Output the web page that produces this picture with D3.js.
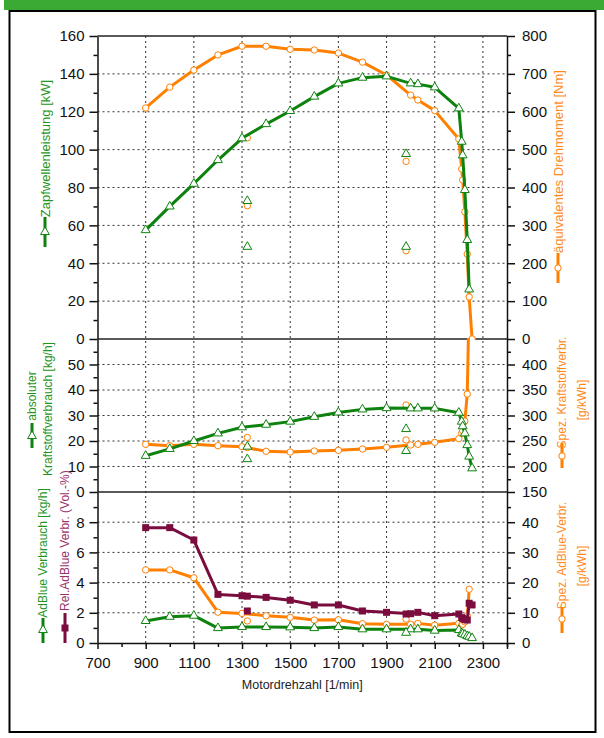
<!DOCTYPE html>
<html><head><meta charset="utf-8">
<script src="https://cdn.jsdelivr.net/npm/d3@7"></script>
<style>body{margin:0;background:#fff}text{font-family:"Liberation Sans",Arial,sans-serif}</style>
</head><body><svg id="c" width="604" height="738"></svg>
<script>
// ---- data ----
const rpm      = [900,1000,1100,1200,1300,1400,1500,1600,1700,1800,1900,2000,2030,2100,2200,2212,2216,2225,2235,2243,2255];
const power    = [57.5,70,82,94.5,106,113.5,120.4,128,135,138,138.7,135,134.6,132.9,121.8,104.2,97,78.7,52.3,26.2,null];
const torque   = [610,665,710,750,773,773,765,763,755,731,697,644,631,603,528,449,420,336,224,111,0];
const fuel     = [14.2,16.9,20,23,25.4,26.4,27.6,29.5,31.2,32.4,32.9,32.8,32.8,32.8,31.1,27.6,25.8,23,18.4,13.9,9.3];
const specFuel = [243.5,240.8,243.5,240.8,238.8,229.8,228.4,230.4,231.7,234.3,237.6,242.2,243.5,247.4,254.6,265,270,289,342,530,null];
const adblue   = [1.46,1.74,1.81,0.99,1.06,1.06,1.04,0.99,1.06,0.91,0.91,0.91,0.91,0.82,0.86,0.64,0.6,0.55,0.46,0.42,0.33];
const relAdblue= [7.64,7.64,6.82,3.22,3.13,3.02,2.83,2.52,2.52,2.12,2.03,1.94,2.03,1.81,1.92,1.68,1.63,1.55,1.52,2.63,2.52];
const specAdblue=[24.2,24.2,21.6,10.2,9.8,9.0,8.5,7.6,7.7,6.4,6.2,6.2,6.5,5.9,6.5,6.0,6.2,7.0,9.0,17.8,null];

// separate measuring points (not connected)
const outRpm       = [1322,1322,1981,1981];
const outPower     = [72.9,48.7,97.7,48.7];
const outTorque    = [531,352,469,233];
const outFuel      = [17.8,12.9,24.7,16.1];
const outSpecFuel  = [237,257,252,320.6];
const outAdblue    = [null,null,0.68,null];
const outRel       = [3.1,2.12,1.92,null];
const outSpecAdb   = [null,7.3,7.9,null];

const xTicks = [700,900,1100,1300,1500,1700,1900,2100,2300];
const xMinor = [800,1000,1200,1400,1600,1800,2000,2200,2400];
const powerTicks = [0,20,40,60,80,100,120,140,160];
const torqueTicks = [0,100,200,300,400,500,600,700,800];
const fuelTicks = [0,10,20,30,40,50];
const specFuelTicks = [150,200,250,300,350,400];
const adbTicks = [0,2,4,6,8];
const specAdbTicks = [0,10,20,30,40];

// ---- layout ----
const L=97.5, R=507, T=36, B1=339, B2=492, B3=643;
const GREEN="#0e820e", ORANGE="#ff8000", MAROON="#7a0c3e";
const GREEN_T="#1e961e", ORANGE_T="#ff8a1c", MAROON_T="#9a3068";

const svg=d3.select("#c");
svg.append("rect").attr("x",4).attr("y",0).attr("width",600).attr("height",10).attr("fill","#3aaa35");
svg.append("rect").attr("x",9.5).attr("y",11).attr("width",586).attr("height",721).attr("fill","none").attr("stroke","#000").attr("stroke-width",2);

const x=d3.scaleLinear([700,2400],[L,R]);
const yP=d3.scaleLinear([0,160],[B1,T]);
const yT=d3.scaleLinear([0,800],[B1,T]);
const yF=d3.scaleLinear([0,60],[B2,B1]);
const ySF=d3.scaleLinear([150,450],[B2,B1]);
const yA=d3.scaleLinear([0,10],[B3,B2]);
const ySA=d3.scaleLinear([0,50],[B3,B2]);

// clip paths
const defs=svg.append("defs");
[["c1",T,B1],["c2",B1,B2],["c3",B2,B3]].forEach(([id,a,b])=>{
  defs.append("clipPath").attr("id",id).append("rect").attr("x",L).attr("y",a-1).attr("width",R-L).attr("height",b-a+2);
});

// grid
const grid=svg.append("g").attr("stroke","#333").attr("stroke-width",1).attr("stroke-dasharray","2,3");
xTicks.slice(1).forEach(v=>grid.append("line").attr("x1",x(v)).attr("x2",x(v)).attr("y1",T).attr("y2",B3));
[[yP,[20,40,60,80,100,120,140]],[yF,[10,20,30,40,50]],[yA,[2,4,6,8]]].forEach(([s,vals])=>{
  vals.forEach(v=>grid.append("line").attr("x1",L).attr("x2",R).attr("y1",s(v)).attr("y2",s(v)));
});

// axes
function styleAxis(g){
  g.selectAll("text").attr("font-size","15px").attr("fill","#111").style("font-family","'Liberation Sans',Arial,sans-serif");
  g.selectAll("line,path").attr("stroke","#111").attr("stroke-width",1.5);
}
function axis(mk,scale,tx,major,minor,pad){
  const g=svg.append("g").attr("transform",tx);
  g.call(mk(scale).tickValues(major).tickSize(8).tickPadding(pad).tickSizeOuter(0));
  g.append("g").call(mk(scale).tickValues(minor).tickSize(4).tickFormat("").tickSizeOuter(0)).select(".domain").remove();
  styleAxis(g);
}
const odd=(a,b,s)=>d3.range(a,b+1e-9,s);
axis(d3.axisLeft,yP,`translate(${L},0)`,powerTicks,odd(10,150,20),5);
axis(d3.axisLeft,yF,`translate(${L},0)`,fuelTicks,odd(5,55,10),5);
axis(d3.axisLeft,yA,`translate(${L},0)`,adbTicks,odd(1,9,2),5);
axis(d3.axisRight,yT,`translate(${R},0)`,torqueTicks,odd(50,750,100),7);
axis(d3.axisRight,ySF,`translate(${R},0)`,specFuelTicks,odd(175,425,50),7);
axis(d3.axisRight,ySA,`translate(${R},0)`,specAdbTicks,odd(5,45,10),7);
const xa=svg.append("g").attr("transform",`translate(0,${B3})`);
xa.call(d3.axisBottom(x).tickValues(xTicks.concat([2400])).tickFormat(d=>d===2400?"":d).tickSize(6).tickPadding(8).tickSizeOuter(0));
xa.append("g").call(d3.axisBottom(x).tickValues(xMinor).tickSize(4).tickFormat("").tickSizeOuter(0)).select(".domain").remove();
styleAxis(xa);

// panel frame lines
[T,B1,B2].forEach(yv=>svg.append("line").attr("x1",L).attr("x2",R).attr("y1",yv).attr("y2",yv).attr("stroke","#222").attr("stroke-width",1.6));

// markers
function marker(g,type,color,cx,cy){
  if(type==="tri") g.append("path").attr("d",d3.symbol(d3.symbolTriangle,34)()).attr("transform",`translate(${cx},${cy})`).attr("fill","#fff").attr("stroke",color).attr("stroke-width",1);
  else if(type==="circ") g.append("circle").attr("cx",cx).attr("cy",cy).attr("r",3.2).attr("fill","#fff").attr("stroke",color).attr("stroke-width",1);
  else g.append("rect").attr("x",cx-3.5).attr("y",cy-3.5).attr("width",7).attr("height",7).attr("fill",color);
}
function series(clip,ys,ySc,color,type,ox,oy){
  const g=svg.append("g").attr("clip-path",`url(#${clip})`);
  const pts=rpm.map((r,i)=>[r,ys[i]]);
  g.append("path").datum(pts).attr("fill","none").attr("stroke",color).attr("stroke-width",3).attr("stroke-linejoin","round")
    .attr("d",d3.line().defined(d=>d[1]!=null).x(d=>x(d[0])).y(d=>ySc(d[1])));
  pts.filter(d=>d[1]!=null).forEach(d=>marker(g,type,color,x(d[0]),ySc(d[1])));
  ox.forEach((r,i)=>{ if(oy[i]!=null) marker(g,type,color,x(r),ySc(oy[i])); });
}
series("c1",torque,yT,ORANGE,"circ",outRpm,outTorque);
series("c1",power,yP,GREEN,"tri",outRpm,outPower);
series("c2",specFuel,ySF,ORANGE,"circ",outRpm,outSpecFuel);
series("c2",fuel,yF,GREEN,"tri",outRpm,outFuel);
series("c3",specAdblue,ySA,ORANGE,"circ",outRpm,outSpecAdb);
series("c3",relAdblue,yA,MAROON,"sq",outRpm,outRel);
series("c3",adblue,yA,GREEN,"tri",outRpm,outAdblue);

// axis titles with legend symbols
function vtext(txt,cx,cy,color,size,anchor){
  svg.append("text").attr("transform",`translate(${cx},${cy}) rotate(-90)`).attr("text-anchor",anchor||"middle")
    .attr("dominant-baseline","central").attr("font-size",size+"px").attr("fill",color).text(txt);
}
function vsym(cx,y1,y2,ym,color,type){
  svg.append("line").attr("x1",cx).attr("x2",cx).attr("y1",y1).attr("y2",y2).attr("stroke",color).attr("stroke-width",3);
  marker(svg,type,color,cx,ym);
}
vtext("Zapfwellenleistung [kW]",45,148.5,GREEN_T,13); vsym(45,217,247,232,GREEN,"tri");
vtext("äquivalentes Drehmoment [Nm]",558,161.5,ORANGE_T,13); vsym(558,253,283,268,ORANGE,"circ");
vtext("absoluter",32,396,GREEN_T,12); vsym(32,423,448,436,GREEN,"tri");
vtext("Kraftstoffverbrauch [kg/h]",48,409,GREEN_T,12);
vtext("Spez. Kraftstoffverbr.",562,392.5,ORANGE_T,12); vsym(562,443,468,456,ORANGE,"circ");
vtext("[g/kWh]",582,400,ORANGE_T,12);
vtext("AdBlue Verbrauch [kg/h]",43,553,GREEN_T,12); vsym(43,618,643,630,GREEN,"tri");
vtext("Rel.AdBlue Verbr. (Vol.-%)",65,611,MAROON_T,12,"start"); vsym(65,613,643,628,MAROON,"sq");
vtext("Spez. AdBlue-Verbr.",562,555.5,ORANGE_T,12); vsym(562,607,633,619,ORANGE,"circ");
vtext("[g/kWh]",582,566,ORANGE_T,12);

svg.append("text").attr("x",(L+R)/2).attr("y",689).attr("text-anchor","middle").attr("font-size","12.5px").attr("fill","#222").text("Motordrehzahl [1/min]");
</script></body></html>
